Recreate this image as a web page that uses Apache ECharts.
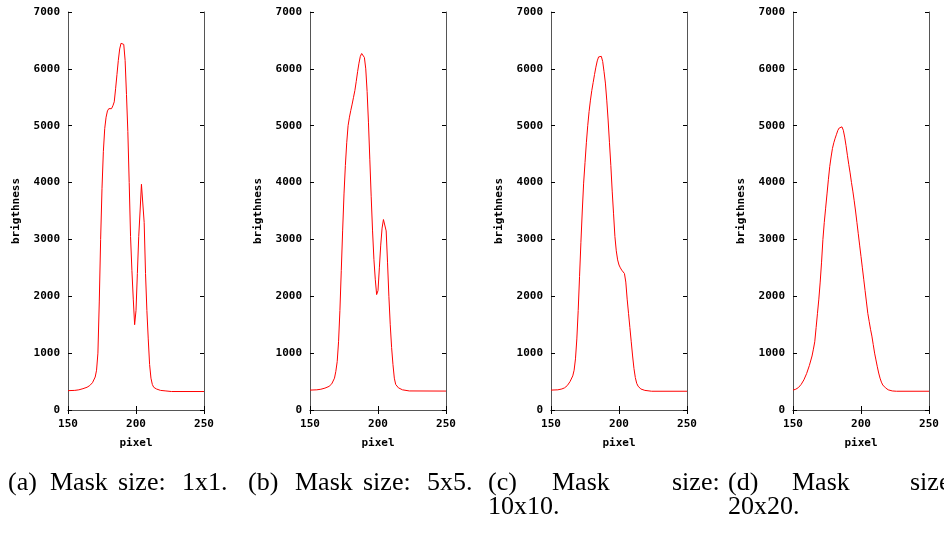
<!DOCTYPE html>
<html>
<head>
<meta charset="utf-8">
<script src="https://cdn.jsdelivr.net/npm/echarts@6/dist/echarts.min.js"></script>
<style>
  html, body { margin: 0; padding: 0; background: #fff; }
  #chart { width: 944px; height: 538px; }
</style>
</head>
<body>
<div id="chart"></div>
<script>
// pixel positions and brightness values
const pixelA = [150,155,158,161,164,166,168,170,171,172,173,174,175,176,177,178,179,180,181,182,183,184,185,186,187,188,189,190,191,192,193,194,195,196,197,198,199,200,201,202,203,204,205,206,207,208,209,210,211,212,213,215,218,222,226,250];
const brightA = [340,345,355,375,400,430,480,580,700,1000,1900,3000,3900,4550,4950,5150,5260,5300,5280,5300,5350,5420,5650,5900,6150,6350,6450,6440,6430,6150,5550,4900,4000,3050,2450,1950,1500,1750,2400,3050,3500,3970,3970,3300,2400,1750,1250,800,560,450,400,370,345,335,325,325];

const pixelB = [150,155,158,161,164,166,168,169,170,171,172,173,174,175,176,177,178,179,180,181,182,183,184,185,186,187,188,189,190,191,192,193,194,195,196,197,198,199,200,201,202,203,204,205,206,207,208,209,210,211,212,213,215,218,223,250];
const brightB = [350,355,365,385,415,460,560,680,850,1200,1750,2450,3150,3800,4300,4700,5000,5150,5270,5380,5500,5620,5780,5950,6100,6220,6270,6270,6200,6000,5600,5050,4400,3750,3150,2650,2300,2030,2100,2500,2900,3200,3350,3370,3150,2600,2000,1500,1100,800,560,450,390,355,335,333];

const pixelC = [150,155,158,160,162,164,166,167,168,169,170,171,172,173,174,175,176,177,178,179,180,181,182,183,184,185,186,187,188,189,190,191,192,193,194,195,196,197,198,199,200,201,202,203,204,205,206,207,208,209,210,211,212,213,214,216,219,224,250];
const brightC = [350,355,370,390,430,500,600,700,900,1250,1750,2350,2950,3500,3990,4350,4700,5000,5250,5450,5620,5760,5900,6030,6140,6210,6240,6220,6130,5950,5750,5450,5100,4700,4300,3850,3450,3050,2800,2640,2550,2500,2460,2430,2400,2250,1950,1700,1450,1200,950,730,570,470,420,370,345,330,330];

const pixelD = [150,152,154,156,158,160,162,164,165,166,167,168,169,170,171,172,173,174,175,176,177,178,179,180,181,182,183,184,185,186,187,188,189,190,191,192,193,194,195,196,197,198,199,200,201,202,203,204,205,206,207,208,209,210,211,212,213,214,215,216,218,220,223,226,250];
const brightD = [350,365,395,450,530,640,780,950,1070,1200,1450,1700,1950,2250,2600,3000,3300,3550,3800,4050,4280,4450,4600,4700,4780,4850,4920,4960,4990,4980,4920,4800,4650,4480,4320,4170,4000,3850,3680,3500,3300,3100,2900,2700,2500,2300,2100,1900,1700,1560,1420,1300,1150,1000,880,760,650,560,490,440,390,355,335,330,330];

const panels = [
    { x: pixelA, y: brightA, left: 68 },
    { x: pixelB, y: brightB, left: 310 },
    { x: pixelC, y: brightC, left: 551 },
    { x: pixelD, y: brightD, left: 793 }
];

// caption words, placed like the justified LaTeX subcaptions
const captions = [
    ['(a)', 8, 490], ['Mask', 50, 490], ['size:', 118, 490], ['1x1.', 182, 490],
    ['(b)', 248, 490], ['Mask', 295, 490], ['size:', 363, 490], ['5x5.', 427, 490],
    ['(c)', 488, 490], ['Mask', 552, 490], ['size:', 672, 490], ['10x10.', 488, 514],
    ['(d)', 728, 490], ['Mask', 792, 490], ['size:', 910, 490], ['20x20.', 728, 514]
];

const borderColor = '#555';
const labelFont = { fontFamily: 'DejaVu Sans Mono', fontWeight: 'bold', fontSize: 11, color: '#000' };

const grid = [], xAxis = [], yAxis = [], series = [];
panels.forEach((p, i) => {
    grid.push({ left: p.left, top: 12, width: 136, height: 398 });
    const common = {
        type: 'value', gridIndex: i,
        axisLine: { show: true, lineStyle: { color: borderColor, width: 1 } },
        axisTick: { show: true, inside: true, length: 4, lineStyle: { color: '#000' } },
        splitLine: { show: false }
    };
    xAxis.push(Object.assign({}, common, {
        position: 'bottom', min: 150, max: 250, interval: 50,
        name: 'pixel', nameLocation: 'middle', nameGap: 28,
        nameTextStyle: labelFont,
        axisLabel: Object.assign({ margin: 9 }, labelFont)
    }));
    xAxis.push(Object.assign({}, common, {
        position: 'top', min: 150, max: 250, interval: 50, axisLabel: { show: false }
    }));
    yAxis.push(Object.assign({}, common, {
        position: 'left', min: 0, max: 7000, interval: 1000,
        name: 'brigthness', nameLocation: 'middle', nameGap: 46,
        nameTextStyle: labelFont,
        axisLabel: Object.assign({ margin: 8, formatter: v => String(v) }, labelFont)
    }));
    yAxis.push(Object.assign({}, common, {
        position: 'right', min: 0, max: 7000, interval: 1000, axisLabel: { show: false }
    }));
    series.push({
        type: 'line',
        xAxisIndex: i * 2, yAxisIndex: i * 2,
        data: p.x.map((v, k) => [v, p.y[k]]),
        showSymbol: false,
        lineStyle: { color: '#ff0000', width: 1 },
        animation: false
    });
});

const graphic = captions.map(c => ({
    type: 'text', left: c[1], top: c[2] - 20,
    style: { text: c[0], fontFamily: 'Liberation Serif', fontSize: 26, fill: '#000' }
}));

const myChart = echarts.init(document.getElementById('chart'));
myChart.setOption({
    animation: false,
    grid: grid,
    xAxis: xAxis,
    yAxis: yAxis,
    series: series,
    graphic: graphic
});
</script>
</body>
</html>
